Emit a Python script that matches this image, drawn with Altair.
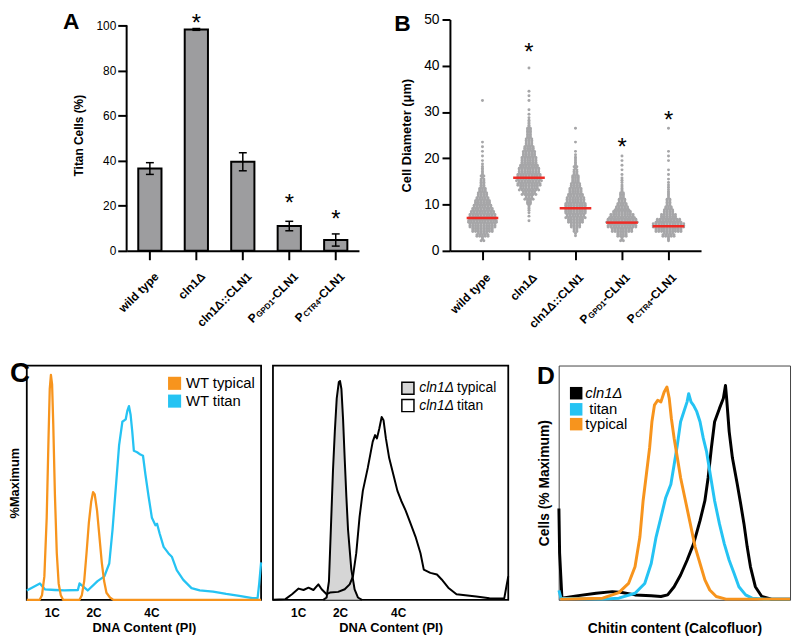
import altair as alt
import pandas as pd

FONT = "Liberation Sans"
GRAY_BAR = "#9d9d9f"
DOT = "#a6a6a8"
RED = "#ee2a24"
CYAN = "#25c3f3"
ORANGE = "#f7941d"
AREA_GRAY = "#d6d6d6"

# ---------------- Panel A : titan cells (%) ----------------
a_categories = ["wild type", "cln1Δ", "cln1Δ::CLN1", "PGPD1-CLN1", "PCTR4-CLN1"]
a_titan_pct = [36.5, 98.2, 39.5, 11.0, 4.8]
a_err = [2.6, 0.4, 4.0, 2.1, 2.7]
a_star_y = [None, 103.5, None, 23.9, 16.6]

# axis label pieces (main text, big prefix, subscript)
label_main = ["wild type", "cln1Δ", "cln1Δ::CLN1", "-CLN1", "-CLN1"]
label_prefix = ["", "", "", "P", "P"]
label_sub = ["", "", "", "GPD1", "CTR4"]

# ---------------- Panel B : cell diameter (µm) ----------------
b_medians = [7.1, 15.8, 9.2, 6.1, 5.3]
b_star_y = [None, 44.3, None, 23.6, 29.5]
# number of cells per 1 µm bin, index = µm
wt_counts = [0, 0, 4, 14, 24, 30, 32, 30, 26, 22, 18, 14, 11, 8, 6, 5, 4, 3, 2, 1, 1, 1, 1, 1,
             0, 0, 0, 0, 0, 0, 0, 0, 1]
cln1_counts = [0, 0, 0, 0, 0, 0, 1, 1, 2, 3, 6, 10, 16, 22, 26, 28, 26, 24, 20, 18, 16, 14, 11, 9,
               7, 6, 5, 3, 2, 1, 1, 0, 1, 1, 1, 0, 0, 0, 0, 1]
comp_counts = [0, 0, 0, 2, 6, 12, 18, 22, 24, 24, 22, 20, 16, 14, 11, 9, 7, 5, 4, 3, 2, 1, 0, 1,
               0, 0, 1]
gpd_counts = [0, 0, 4, 12, 24, 32, 34, 28, 20, 14, 10, 7, 5, 3, 2, 2, 1, 1, 1, 1, 1]
ctr_counts = [0, 0, 3, 14, 30, 36, 28, 18, 12, 8, 6, 4, 3, 2, 2, 1, 1, 1, 0, 1, 1, 1, 0, 0, 0, 0, 1]

# ---------------- Panel C : DNA content histograms (x: % of axis, y: % maximum) ----------------
cl_typ_x = [0, 5.5, 6.5, 7.5, 8.5, 9.3, 9.8, 10.3, 10.8, 11.3, 12.0, 12.8, 13.6, 14.5, 15.5, 22.5,
            23.5, 24.5, 25.5, 26.5, 27.5, 28.3, 29.0, 30.0, 31.0, 32.0, 33.0, 34.0, 35.5, 37.0, 100]
cl_typ_y = [0, 0, 2, 10, 35, 70, 90, 96, 92, 75, 45, 20, 7, 2, 0, 0,
            2, 8, 20, 33, 42, 46, 45, 38, 27, 16, 8, 3, 1, 0, 0]
cl_tit_x = [0, 5.6, 7.7, 12, 16, 21.8, 22.5, 26.0, 30.2, 33.1, 35.2, 36.6, 38.0, 39.4, 40.8, 42.2,
            42.9, 43.6, 44.3, 45.0, 45.7, 47.1, 48.5, 49.6, 50.6, 52.0, 53.4, 54.9, 55.6, 56.7,
            58.4, 60.5, 61.9, 64.0, 66.8, 70.3, 73.8, 79.5, 85.1, 90.7, 96.3, 98.5, 99.2, 100]
cl_tit_y = [4, 7, 4.5, 4.2, 4, 4.2, 7, 4, 8, 10, 15.5, 30, 48, 66, 76, 77,
            80.6, 82.7, 79, 72, 63.6, 63, 62, 61.5, 53.7, 44, 35, 31.8, 32.5, 28.3,
            22.6, 19.8, 18.4, 12.7, 8.5, 5, 4, 3.5, 2.5, 1.7, 0.7, 0.7, 7, 16]
cr_typ_x = [21.4, 22.8, 23.8, 24.6, 25.5, 26.3, 27.1, 28.0, 28.5, 29.1, 29.8, 30.5, 31.2, 31.9,
            33.3, 34.7, 36.1, 37.8]
cr_typ_y = [0, 1, 8, 30, 55, 72, 86, 93, 93.4, 90, 77, 60, 44, 30, 13, 4.5, 1, 0]
cr_tit_x = [0, 5.3, 8.1, 10.9, 13.0, 15.1, 17.2, 19.3, 20.7, 22.8, 24.2, 27.7, 30.5, 32.6, 34.0,
            35.4, 36.8, 38.2, 40.3, 42.4, 43.4, 44.2, 45.2, 46.2, 47.0, 48.0, 49.4, 51.5, 52.9,
            54.5, 56.4, 58.5, 60.6, 62.7, 64.1, 66.9, 69.7, 71.7, 74.5, 78.0, 83.6, 86.4, 92.0,
            98.3, 99.0, 100]
cr_tit_y = [0, 0.3, 2.4, 4.8, 4.2, 5.2, 4.2, 6.6, 4.5, 2.4, 3.1, 3.4, 4.5, 6.6, 10,
            19.9, 35.3, 46.5, 56.3, 67.5, 70.3, 68.9, 73.1, 78, 76.6, 68.9, 60.5, 52.1, 46.5,
            42.3, 38.1, 32.5, 26.9, 19.9, 12.9, 11.5, 10.8, 8.7, 5.2, 2.4, 1.7, 1.4, 0.7,
            0.6, 4.5, 10]
c_tick_pos = [10.7, 28.5, 53.2]
c_tick_lab = ["1C", "2C", "4C"]

# ---------------- Panel D : chitin content histograms ----------------
d_cln_x = [0.1, 0.4, 1.4, 7.7, 16.2, 23.2, 27.4, 33.0, 40.0, 44.2, 47.1, 49.9, 52.7, 55.5, 58.3,
           61.1, 63.2, 64.6, 66.0, 67.4, 69.5, 71.2, 72.1, 72.6, 73.7, 75.1, 77.2, 78.7, 80.1,
           81.5, 82.9, 85.0, 87.8, 92.0, 100]
d_cln_y = [39, 20, 0.7, 1.7, 2.8, 3.5, 3.1, 2.1, 1.7, 1.4, 2.1, 5.6, 10.6, 16.9, 23.9,
           33.8, 42.3, 52.1, 64.8, 76, 81.7, 86, 91.5, 86, 71.8, 60.6, 49.3, 40.8, 32.4,
           22.5, 14.1, 5.6, 1.4, 0.3, 0.3]
d_tit_x = [0.1, 1.0, 19.0, 26.0, 33.0, 37.2, 40.0, 42.1, 44.2, 46.3, 48.5, 49.9, 51.3, 52.7,
           54.1, 55.5, 56.2, 57.2, 58.3, 59.7, 61.1, 62.5, 63.9, 65.3, 67.4, 69.5, 71.6, 73.7,
           75.8, 77.9, 80.8, 83.6, 89.2, 100]
d_tit_y = [4, 0.7, 0.3, 0.7, 2.8, 7, 15.5, 26.8, 35.2, 43.7, 49.3, 57.7, 66.2, 76,
           80.3, 84.5, 88, 84.5, 83, 80.3, 76, 69, 63.4, 54.9, 42.3, 32.4, 23.9, 16.9,
           11.3, 5.6, 2.1, 0.7, 0.3, 0.3]
d_typ_x = [0.7, 19.0, 26.0, 30.2, 33.0, 35.1, 36.5, 37.9, 39.3, 40.3, 41.4, 42.8, 44.2, 45.6,
           46.8, 47.8, 48.7, 49.9, 51.3, 52.7, 54.8, 56.9, 59.0, 61.1, 63.2, 65.3, 68.1, 72.3, 100]
d_typ_y = [0.3, 0.7, 3.1, 7, 14.1, 26.8, 42.3, 53.5, 64.8, 76, 83.1, 85.2, 84.5, 88.7,
           90.8, 85.9, 77.5, 69, 60.6, 52.1, 42.3, 32.4, 22.5, 15.5, 8.5, 4.2, 1.4, 0.3, 0.3]

# ---------------- sizes ----------------
W_A, H_A = 235, 234
W_B, H_B = 254, 234
W_CL, W_CR, W_D, H_C = 237, 238, 234, 237

BOLD_W = {"-": 333, "C": 722, "L": 611, "N": 722, "1": 556, "G": 778, "P": 667,
          "D": 722, "T": 611, "R": 722, "4": 556}


def tw(s, fs):
    return sum(BOLD_W.get(c, 600) for c in s) * fs / 1000.0


ONE = pd.DataFrame({"s": [0]})


def txt(text, x, y, size, weight="normal", style="normal", align="left", baseline="middle"):
    return alt.Chart(ONE).mark_text(text=text, fontSize=size, fontWeight=weight, fontStyle=style,
                                    align=align, baseline=baseline, color="black").encode(
        x=alt.value(x), y=alt.value(y))


def anchor(x, y):
    # invisible layout anchor
    return alt.Chart(ONE).mark_circle(size=1, opacity=0).encode(x=alt.value(x), y=alt.value(y))


def xlabels(field, ftype, xvals, scale, ybase, fs, base_dy):
    layers = []
    df = pd.DataFrame({field: xvals, "t": label_main})
    common = dict(angle=315, align="right", baseline="middle", fontWeight="bold", color="black")
    layers.append(alt.Chart(df).mark_text(fontSize=fs, dy=base_dy, **common).encode(
        x=alt.X(f"{field}:{ftype}", scale=scale), y=alt.value(ybase), text="t:N"))
    sfs = fs * 0.68
    for xv, main, pre, sub in zip(xvals, label_main, label_prefix, label_sub):
        if not pre:
            continue
        wm = tw(main, fs)
        ws = tw(sub, sfs)
        d1 = pd.DataFrame({field: [xv], "t": [sub]})
        layers.append(alt.Chart(d1).mark_text(fontSize=sfs, dx=-wm, dy=base_dy + 3, **common).encode(
            x=alt.X(f"{field}:{ftype}", scale=scale), y=alt.value(ybase), text="t:N"))
        d2 = pd.DataFrame({field: [xv], "t": [pre]})
        layers.append(alt.Chart(d2).mark_text(fontSize=fs, dx=-(wm + ws + 0.5), dy=base_dy, **common).encode(
            x=alt.X(f"{field}:{ftype}", scale=scale), y=alt.value(ybase), text="t:N"))
    return layers


# ================= Panel A =================
a_df = pd.DataFrame({"cat": a_categories, "val": a_titan_pct, "err": a_err})
a_df["lo"] = a_df["val"] - a_df["err"]
a_df["hi"] = a_df["val"] + a_df["err"]
a_star_df = pd.DataFrame({"cat": [c for c, s in zip(a_categories, a_star_y) if s is not None],
                          "sy": [s for s in a_star_y if s is not None]})
a_xs = alt.Scale(domain=a_categories, paddingInner=0.5, paddingOuter=0.25)
a_ys = alt.Scale(domain=[0, 102.6], nice=False, zero=True)

a_bars = alt.Chart(a_df).mark_bar(color=GRAY_BAR, stroke="black", strokeWidth=2).encode(
    x=alt.X("cat:N", scale=a_xs, sort=None,
            axis=alt.Axis(labels=False, title=None, domainWidth=2, tickWidth=2, tickSize=9)),
    y=alt.Y("val:Q", scale=a_ys,
            axis=alt.Axis(values=[0, 20, 40, 60, 80, 100], domain=False, tickSize=9, tickWidth=2,
                          labelFontSize=12, labelPadding=2, title="Titan Cells (%)",
                          titleFontSize=12, titleFontWeight="bold", titlePadding=11)))
a_errbar = alt.Chart(a_df).mark_rule(strokeWidth=1.5, color="black").encode(
    x=alt.X("cat:N", scale=a_xs, sort=None), y=alt.Y("lo:Q", scale=a_ys), y2="hi:Q")
a_cap_lo = alt.Chart(a_df).mark_tick(color="black", size=8, thickness=1.5, opacity=1).encode(
    x=alt.X("cat:N", scale=a_xs, sort=None), y=alt.Y("lo:Q", scale=a_ys))
a_cap_hi = alt.Chart(a_df).mark_tick(color="black", size=8, thickness=1.5, opacity=1).encode(
    x=alt.X("cat:N", scale=a_xs, sort=None), y=alt.Y("hi:Q", scale=a_ys))
a_stars = alt.Chart(a_star_df).mark_text(text="*", fontSize=24, baseline="middle", dy=7,
                                         color="black").encode(
    x=alt.X("cat:N", scale=a_xs, sort=None), y=alt.Y("sy:Q", scale=a_ys))
a_axis_line = alt.Chart(ONE).mark_rule(strokeWidth=2, color="black").encode(
    x=alt.value(0), y=alt.datum(0), y2=alt.datum(100))

chartA = alt.layer(
    a_bars, a_errbar, a_cap_lo, a_cap_hi, a_stars, a_axis_line,
    *xlabels("cat", "N", a_categories, a_xs, H_A + 17, 12, 9.7),
    txt("A", -56, 10, 23, weight="bold", align="center", baseline="alphabetic"),
).properties(width=W_A, height=H_A)

# ================= Panel B =================
b_counts = [wt_counts, cln1_counts, comp_counts, gpd_counts, ctr_counts]
pts = []
for gi, counts in enumerate(b_counts):
    for b, n in enumerate(counts):
        if n == 0:
            continue
        nrows = min(3, n)
        for j in range(nrows):
            k = n // nrows + (1 if j < n % nrows else 0)
            yv = b + (j + 0.5) / nrows
            for i in range(k):
                off = (i - (k - 1) / 2.0) * 2.8
                pts.append({"gx": gi + off / 47.0, "d": yv})
b_pts = pd.DataFrame(pts)
b_med = pd.DataFrame({"gx": list(range(5)), "m": b_medians})
b_med["x1"] = b_med["gx"] - 0.34
b_med["x2"] = b_med["gx"] + 0.34
b_star_df = pd.DataFrame({"gx": [i for i, s in enumerate(b_star_y) if s is not None],
                          "sy": [s for s in b_star_y if s is not None]})
b_xs = alt.Scale(domain=[-0.7, 4.7], nice=False, zero=False)
b_ys = alt.Scale(domain=[0, 50], nice=False)

b_points = alt.Chart(b_pts).mark_circle(size=9, color=DOT, opacity=1).encode(
    x=alt.X("gx:Q", scale=b_xs,
            axis=alt.Axis(values=[0, 1, 2, 3, 4], labels=False, title=None, grid=False,
                          domainWidth=2, tickWidth=2, tickSize=9)),
    y=alt.Y("d:Q", scale=b_ys,
            axis=alt.Axis(values=[0, 10, 20, 30, 40, 50], grid=False, domainWidth=2, tickWidth=2,
                          tickSize=8, labelFontSize=14, labelPadding=3,
                          title="Cell Diameter (μm)", titleFontSize=13, titleFontWeight="bold",
                          titlePadding=10)))
b_median_lines = alt.Chart(b_med).mark_rule(color=RED, strokeWidth=2.5).encode(
    x=alt.X("x1:Q", scale=b_xs), x2="x2:Q", y=alt.Y("m:Q", scale=b_ys))
b_stars = alt.Chart(b_star_df).mark_text(text="*", fontSize=24, baseline="middle", dy=7,
                                         color="black").encode(
    x=alt.X("gx:Q", scale=b_xs), y=alt.Y("sy:Q", scale=b_ys))

chartB = alt.layer(
    b_points, b_median_lines, b_stars,
    *xlabels("gx", "Q", list(range(5)), b_xs, H_B + 19, 12, 8.5),
    txt("B", -48, 12, 23, weight="bold", align="center", baseline="alphabetic"),
).properties(width=W_B, height=H_B)


# ================= Panel C =================
def c_xaxis():
    return alt.Axis(values=c_tick_pos,
                    labelExpr="datum.value < 20 ? '1C' : datum.value < 40 ? '2C' : '4C'",
                    ticks=False, domain=False, grid=False, labelFontSize=12, labelFontWeight="bold",
                    labelPadding=8, labelFlush=False, title="DNA Content (PI)", titleFontSize=13,
                    titleFontWeight="bold", titlePadding=3)


c_xs = alt.Scale(domain=[0, 100], nice=False, zero=False)
c_ys = alt.Scale(domain=[0, 100], nice=False)


def c_line(xs, ys, color, width, with_axes, ytitle="%Maximum"):
    df = pd.DataFrame({"x": xs, "y": ys})
    if with_axes:
        x = alt.X("x:Q", scale=c_xs, axis=c_xaxis())
        y = alt.Y("y:Q", scale=c_ys,
                  axis=alt.Axis(labels=False, ticks=False, domain=False, grid=False, title=ytitle,
                                titleFontSize=13, titleFontWeight="bold", titlePadding=5))
    else:
        x = alt.X("x:Q", scale=c_xs)
        y = alt.Y("y:Q", scale=c_ys)
    return alt.Chart(df).mark_line(color=color, strokeWidth=width, strokeJoin="round").encode(x=x, y=y)


def sq(x, y, fill, stroke=None, size=175):
    kw = dict(shape="square", size=size, fill=fill, filled=True, opacity=1)
    if stroke:
        kw.update(stroke=stroke, strokeWidth=1.5)
    else:
        kw.update(strokeWidth=0)
    return alt.Chart(ONE).mark_point(**kw).encode(x=alt.value(x), y=alt.value(y))


chartCL = alt.layer(
    c_line(cl_tit_x, cl_tit_y, CYAN, 2.3, True),
    c_line(cl_typ_x, cl_typ_y, ORANGE, 2.3, False),
    sq(149.5, 18, ORANGE), sq(149.5, 36, CYAN),
    txt("WT typical", 161, 18, 15), txt("WT titan", 161, 36, 15),
    txt("C", -17, 17, 28, weight="bold", baseline="alphabetic"),
    anchor(-17, -20),
).properties(width=W_CL, height=H_C, view=alt.ViewBackground(stroke="black", strokeWidth=1.8))

cr_area_df = pd.DataFrame({"x": cr_typ_x, "y": cr_typ_y})
cr_area = alt.Chart(cr_area_df).mark_area(color=AREA_GRAY, opacity=1).encode(
    x=alt.X("x:Q", scale=c_xs, axis=c_xaxis()),
    y=alt.Y("y:Q", scale=c_ys, axis=None))
IT_W = (500 + 222 + 556 + 556 + 612) * 14 / 1000.0
chartCR = alt.layer(
    cr_area,
    c_line(cr_typ_x, cr_typ_y, "black", 2, False),
    c_line(cr_tit_x, cr_tit_y, "black", 2, False),
    sq(136.5, 23, AREA_GRAY, "black", 150), sq(136.5, 40.5, "white", "black", 150),
    txt("cln1Δ", 148, 23, 14, style="italic"), txt("typical", 152 + IT_W, 23, 14),
    txt("cln1Δ", 148, 40.5, 14, style="italic"), txt("titan", 152 + IT_W, 40.5, 14),
).properties(width=W_CR, height=H_C, view=alt.ViewBackground(stroke="black", strokeWidth=1.8))


# ================= Panel D =================
def d_line(xs, ys, color, with_axes):
    df = pd.DataFrame({"x": xs, "y": ys})
    if with_axes:
        x = alt.X("x:Q", scale=c_xs,
                  axis=alt.Axis(labels=False, ticks=False, domain=False, grid=False,
                                title="Chitin content (Calcofluor)", titleFontSize=14,
                                titleFontWeight="bold", titlePadding=22))
        y = alt.Y("y:Q", scale=c_ys,
                  axis=alt.Axis(labels=False, ticks=False, domain=False, grid=False,
                                title="Cells (% Maximum)", titleFontSize=14,
                                titleFontWeight="bold", titlePadding=7))
    else:
        x = alt.X("x:Q", scale=c_xs)
        y = alt.Y("y:Q", scale=c_ys)
    return alt.Chart(df).mark_line(color=color, strokeWidth=3, strokeJoin="round").encode(x=x, y=y)


chartD = alt.layer(
    d_line(d_cln_x, d_cln_y, "black", True),
    d_line(d_tit_x, d_tit_y, CYAN, False),
    d_line(d_typ_x, d_typ_y, ORANGE, False),
    sq(17.7, 28, "black", None, 160), sq(17.7, 44.3, CYAN, None, 160), sq(17.7, 59.3, ORANGE, None, 160),
    txt("cln1Δ", 27, 28, 15, style="italic"), txt("titan", 31, 44.3, 15), txt("typical", 27, 59.3, 15),
    txt("D", -22, 19, 25, weight="bold", baseline="alphabetic"),
).properties(width=W_D, height=H_C, view=alt.ViewBackground(stroke="#444444", strokeWidth=1))


def spacer(w, h=10, ay=326):
    return alt.layer(anchor(-17, 0), anchor(-17, ay)).properties(width=w, height=h)


top_row = alt.hconcat(spacer(9), chartA, chartB, spacing=92, bounds="flush")
bottom_row = alt.hconcat(chartCL, chartCR, spacer(27, ay=0), chartD, spacing=12, bounds="flush")

chart = alt.vconcat(top_row, bottom_row, spacing=1).properties(
    padding={"left": 0, "top": 0, "right": 0, "bottom": 0}
).configure(font=FONT).configure_view(stroke=None).configure_axis(
    labelColor="black", titleColor="black", domainColor="black", tickColor="black", grid=False
)

chart.save("out.html", embed_options={"renderer": "svg", "actions": False})
